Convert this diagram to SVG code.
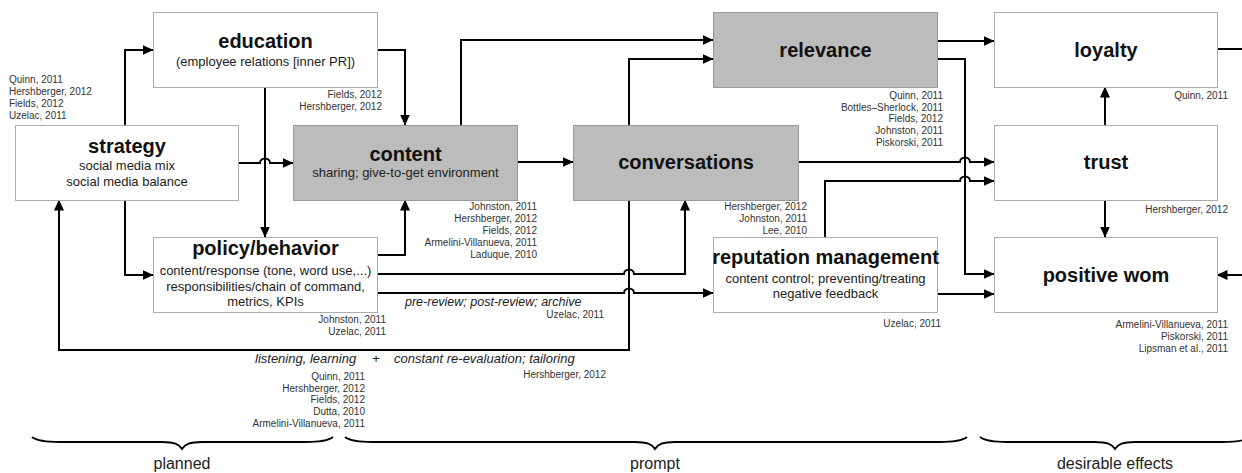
<svg xmlns="http://www.w3.org/2000/svg" width="1242" height="473" viewBox="0 0 1242 473">
<defs>
<style>
.box{fill:#fff;stroke:#adadad;stroke-width:1}
.gbox{fill:#bcbcbc;stroke:#9a9a9a;stroke-width:1}
text{font-family:"Liberation Sans",Arial,sans-serif}
.t{font-weight:bold;font-size:20px;fill:#111;text-anchor:middle}
.s{font-size:13px;fill:#222;text-anchor:middle}
.c{font-size:10px;fill:#333}
.r{text-anchor:end}
.i{font-style:italic;font-size:13px;fill:#222}
.b{font-size:16px;fill:#222;text-anchor:middle}
.ln{fill:none;stroke:#000;stroke-width:2}
.br{fill:none;stroke:#000;stroke-width:1.8}
</style>
<marker id="ah" markerWidth="11" markerHeight="10" refX="10.5" refY="5" orient="auto" markerUnits="userSpaceOnUse">
<path d="M0,0 L11,5 L0,10 z" fill="#000"/>
</marker>
</defs>
<rect width="1242" height="473" fill="#fff"/>

<g id="connectors">
<path class="ln" marker-end="url(#ah)" d="M125,125 V50 H153"/>
<path class="ln" marker-end="url(#ah)" d="M125,200 V275 H153"/>
<path class="ln" marker-end="url(#ah)" d="M377,50 H405 V125"/>
<path class="ln" marker-end="url(#ah)" d="M265,87 V237"/>
<path class="ln" marker-end="url(#ah)" d="M238,163 H260 a5,4.5 0 0 1 10,0 H293"/>
<path class="ln" marker-end="url(#ah)" d="M377,255 H405 V200"/>
<path class="ln" marker-end="url(#ah)" d="M461,125 V40 H713"/>
<path class="ln" marker-end="url(#ah)" d="M517,162 H573"/>
<path class="ln" marker-end="url(#ah)" d="M629,125 V59 H713"/>
<path class="ln" marker-end="url(#ah)" d="M629,200 V350 H59 V200"/>
<path class="ln" marker-end="url(#ah)" d="M377,274 H624 a5,4.5 0 0 1 10,0 H685 V200"/>
<path class="ln" marker-end="url(#ah)" d="M377,293 H624 a5,4.5 0 0 1 10,0 H713"/>
<path class="ln" marker-end="url(#ah)" d="M937,41 H994"/>
<path class="ln" marker-end="url(#ah)" d="M937,59 H965 V274 H994"/>
<path class="ln" marker-end="url(#ah)" d="M798,162 H960 a5,4.5 0 0 1 10,0 H994"/>
<path class="ln" marker-end="url(#ah)" d="M825,237 V181 H960 a5,4.5 0 0 1 10,0 H994"/>
<path class="ln" marker-end="url(#ah)" d="M937,294 H994"/>
<path class="ln" marker-end="url(#ah)" d="M1105,125 V87"/>
<path class="ln" marker-end="url(#ah)" d="M1105,200 V237"/>
<path class="ln" d="M1217,49 H1242"/>
<path class="ln" marker-end="url(#ah)" d="M1242,275 H1217"/>
</g>

<g id="education">
<rect class="box" x="153.5" y="12.5" width="224" height="75"/>
<text class="t" x="265.5" y="48">education</text>
<text class="s" x="265.5" y="66">(employee relations [inner PR])</text>
</g>

<g id="strategy">
<rect class="box" x="15.5" y="125.5" width="223" height="75"/>
<text class="t" x="127" y="153">strategy</text>
<text class="s" x="127" y="170">social media mix</text>
<text class="s" x="127" y="186">social media balance</text>
</g>

<g id="content">
<rect class="gbox" x="293.5" y="125.5" width="224" height="75"/>
<text class="t" x="405.5" y="161">content</text>
<text class="s" x="405.5" y="177">sharing; give-to-get environment</text>
</g>

<g id="conversations">
<rect class="gbox" x="573.5" y="125.5" width="225" height="75"/>
<text class="t" x="686" y="169">conversations</text>
</g>

<g id="relevance">
<rect class="gbox" x="713.5" y="12.5" width="224" height="75"/>
<text class="t" x="825.5" y="57">relevance</text>
</g>

<g id="loyalty">
<rect class="box" x="994.5" y="12.5" width="223" height="75"/>
<text class="t" x="1106" y="57">loyalty</text>
</g>

<g id="trust">
<rect class="box" x="994.5" y="125.5" width="223" height="75"/>
<text class="t" x="1106" y="169">trust</text>
</g>

<g id="positive-wom">
<rect class="box" x="994.5" y="237.5" width="223" height="75"/>
<text class="t" x="1106" y="282">positive wom</text>
</g>

<g id="policy-behavior">
<rect class="box" x="153.5" y="237.5" width="224" height="75"/>
<text class="t" x="265.5" y="255">policy/behavior</text>
<text class="s" x="265.5" y="275">content/response (tone, word use,...)</text>
<text class="s" x="265.5" y="290.5">responsibilities/chain of command,</text>
<text class="s" x="265.5" y="306">metrics, KPIs</text>
</g>

<g id="reputation-management">
<rect class="box" x="713.5" y="237.5" width="224" height="75"/>
<text class="t" x="825.5" y="264">reputation management</text>
<text class="s" x="825.5" y="283">content control; preventing/treating</text>
<text class="s" x="825.5" y="298">negative feedback</text>
</g>

<g id="citations">
<text class="c" x="9" y="83">Quinn, 2011</text>
<text class="c" x="9" y="95">Hershberger, 2012</text>
<text class="c" x="9" y="107">Fields, 2012</text>
<text class="c" x="9" y="119">Uzelac, 2011</text>

<text class="c r" x="382" y="98">Fields, 2012</text>
<text class="c r" x="382" y="110">Hershberger, 2012</text>

<text class="c r" x="537" y="209.5">Johnston, 2011</text>
<text class="c r" x="537" y="221.5">Hershberger, 2012</text>
<text class="c r" x="537" y="233.5">Fields, 2012</text>
<text class="c r" x="537" y="245.5">Armelini-Villanueva, 2011</text>
<text class="c r" x="537" y="257.5">Laduque, 2010</text>

<text class="c r" x="807" y="209.5">Hershberger, 2012</text>
<text class="c r" x="807" y="221.5">Johnston, 2011</text>
<text class="c r" x="807" y="233.5">Lee, 2010</text>

<text class="c r" x="943" y="99">Quinn, 2011</text>
<text class="c r" x="943" y="110.7">Bottles–Sherlock, 2011</text>
<text class="c r" x="943" y="122.4">Fields, 2012</text>
<text class="c r" x="943" y="134.1">Johnston, 2011</text>
<text class="c r" x="943" y="145.8">Piskorski, 2011</text>

<text class="c r" x="1228" y="99">Quinn, 2011</text>
<text class="c r" x="1228" y="213">Hershberger, 2012</text>

<text class="c r" x="386" y="323">Johnston, 2011</text>
<text class="c r" x="386" y="334.5">Uzelac, 2011</text>

<text class="c r" x="604" y="318">Uzelac, 2011</text>
<text class="c r" x="941" y="327">Uzelac, 2011</text>

<text class="c r" x="1228" y="327.5">Armelini-Villanueva, 2011</text>
<text class="c r" x="1228" y="339.5">Piskorski, 2011</text>
<text class="c r" x="1228" y="351.5">Lipsman et al., 2011</text>

<text class="c r" x="365" y="380">Quinn, 2011</text>
<text class="c r" x="365" y="391.7">Hershberger, 2012</text>
<text class="c r" x="365" y="403.4">Fields, 2012</text>
<text class="c r" x="365" y="415.1">Dutta, 2010</text>
<text class="c r" x="365" y="426.8">Armelini-Villanueva, 2011</text>

<text class="c r" x="606" y="377.5">Hershberger, 2012</text>
</g>

<g id="labels">
<text class="i" x="405" y="306" style="font-size:12.5px">pre-review; post-review; archive</text>
<text class="i" x="255" y="363">listening, learning</text>
<text class="i" x="376" y="363" style="text-anchor:middle;font-style:normal">+</text>
<text class="i" x="394" y="363">constant re-evaluation; tailoring</text>
</g>

<g id="braces">
<path class="br" d="M32,437 C37,441 45,442 60,442 L162,442 C174,442 179,444 182,449 C185,444 190,442 202,442 L305,442 C320,442 328,441 333,437"/>
<path class="br" d="M345,437 C350,441 358,442 373,442 L635,442 C647,442 652,444 655,449 C658,444 663,442 675,442 L939,442 C954,442 962,441 967,437"/>
<path class="br" d="M980,437 C985,441 993,442 1008,442 L1095,442 C1107,442 1112,444 1115,449 C1118,444 1123,442 1135,442 L1222,442 C1237,442 1245,441 1250,437"/>
<text class="b" x="182" y="469">planned</text>
<text class="b" x="655" y="469">prompt</text>
<text class="b" x="1115" y="469">desirable effects</text>
</g>
</svg>
